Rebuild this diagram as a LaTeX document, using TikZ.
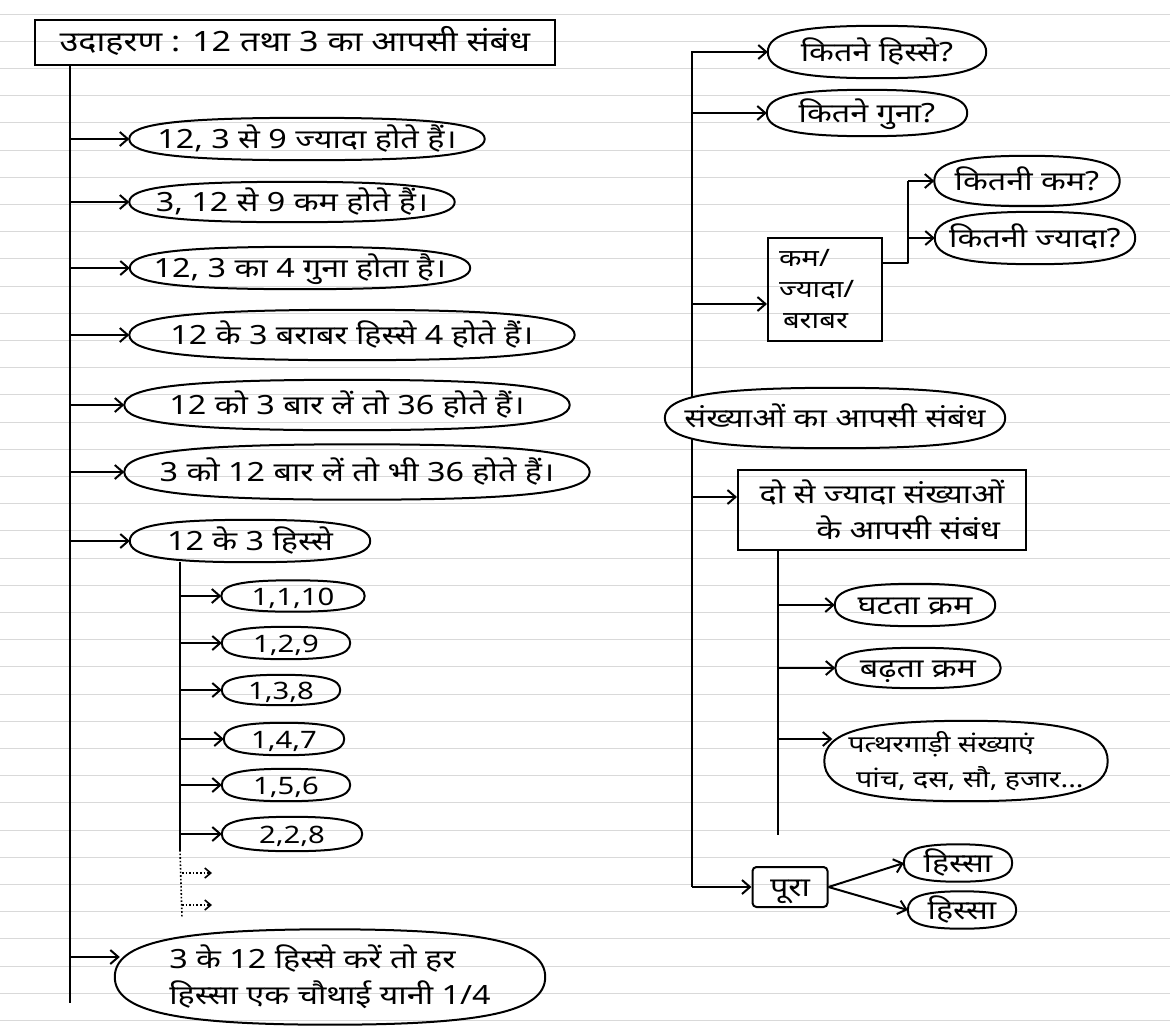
\documentclass[tikz,border=0pt]{standalone}
\usepackage{fontspec}
\newfontfamily\hindi[Script=Devanagari, FakeStretch=1.22]{Noto Sans}
\usetikzlibrary{shapes.geometric,arrows.meta,calc}
\newcommand\ovl[2][0.72]{%
  \draw[ln] (#2.west) .. controls ($(#2.west)!#1!(#2.north west)$) and ($(#2.north)!#1!(#2.north west)$) .. (#2.north)
    .. controls ($(#2.north)!#1!(#2.north east)$) and ($(#2.east)!#1!(#2.north east)$) .. (#2.east)
    .. controls ($(#2.east)!#1!(#2.south east)$) and ($(#2.south)!#1!(#2.south east)$) .. (#2.south)
    .. controls ($(#2.south)!#1!(#2.south west)$) and ($(#2.west)!#1!(#2.south west)$) .. (#2.west);}
\begin{document}
\begin{tikzpicture}[x=1pt,y=-1pt,
  every node/.style={font=\hindi\fontsize{26.5}{36}\selectfont, inner sep=0pt},
  ov/.style={rectangle, inner sep=0pt, text height=22pt, text depth=3pt},
  num/.style={ov, font=\hindi\fontsize{24}{30}\selectfont, text height=19pt, text depth=1pt},
  ovm/.style={rectangle, inner sep=0pt, align=left},
  bx/.style={draw, rectangle, line width=2pt, inner sep=0pt},
  ln/.style={line width=2pt, line join=round},
  arr/.style={line width=2pt, -{Straight Barb[length=8pt,width=14pt]}},
  dotln/.style={line width=1.6pt, dotted},
  dotarr/.style={line width=1.6pt, dotted, -{Straight Barb[length=6pt,width=10pt]}},
  rule/.style={gray!30, line width=0.9pt}]
\useasboundingbox (0,0) rectangle (1170,1028);
\foreach \k in {0,...,37} \draw[rule] (0,{14+27.2*\k}) -- (1170,{14+27.2*\k});

% ---------- left tree ----------
\node[bx, minimum width=520pt, minimum height=45pt, text height=23pt, text depth=4pt, font=\hindi\fontsize{28}{36}\selectfont] (title) at (295,42) {उदाहरण : 12 तथा 3 का आपसी संबंध};
\node[ov, minimum width=355pt, minimum height=42pt] (e1) at (307,139) {12, 3 से 9 ज्यादा होते हैं।};
\node[ov, minimum width=325pt, minimum height=40pt] (e2) at (292,202) {3, 12 से 9 कम होते हैं।};
\node[ov, minimum width=340pt, minimum height=42pt] (e3) at (300,268) {12, 3 का 4 गुना होता है।};
\node[ov, minimum width=445pt, minimum height=50pt] (e4) at (352,335) {12 के 3 बराबर हिस्से 4 होते हैं।};
\node[ov, minimum width=445pt, minimum height=50pt] (e5) at (347,405) {12 को 3 बार लें तो 36 होते हैं।};
\node[ov, minimum width=465pt, minimum height=55pt] (e6) at (357,472) {3 को 12 बार लें तो भी 36 होते हैं।};
\node[ov, minimum width=240pt, minimum height=42pt] (e7) at (250,541) {12 के 3 हिस्से};
\node[num, minimum width=143pt, minimum height=31pt] (f1) at (293,596) {1,1,10};
\node[num, minimum width=128pt, minimum height=32pt] (f2) at (286,643) {1,2,9};
\node[num, minimum width=118pt, minimum height=30pt] (f3) at (281,690) {1,3,8};
\node[num, minimum width=120pt, minimum height=32pt] (f4) at (284,739) {1,4,7};
\node[num, minimum width=128pt, minimum height=32pt] (f5) at (286,785) {1,5,6};
\node[num, minimum width=140pt, minimum height=34pt] (f6) at (292,834) {2,2,8};
\node[ovm, minimum width=430pt, minimum height=95pt] (e8) at (330,977) {3 के 12 हिस्से करें तो हर\\हिस्सा एक चौथाई यानी 1/4};
\foreach \n in {e1,e2,e3,e4,e5,e6,e7,f1,f2,f3,f4,f5,f6,e8} {\ovl{\n}}

\coordinate (LT) at (70,0);
\coordinate (LTend) at (70,1003);
\draw[ln] (title.south -| LT) -- (LTend);
\foreach \n in {e1,e2,e3,e4,e5,e6,e7} \draw[arr] (LT |- \n.west) -- (\n.west);
\coordinate (e8in) at ([xshift=5pt,yshift=20pt]e8.west);
\draw[arr] (LT |- e8in) -- (e8in);

\coordinate (ST) at (180,0);
\coordinate (STend) at (180,850);
\coordinate (DTend) at (182,918);
\draw[ln] (ST |- e7.south) -- (STend);
\foreach \n in {f1,f2,f3,f4,f5,f6} \draw[arr] (ST |- \n.west) -- (\n.west);
\draw[dotln] (STend) -- (DTend);
\coordinate (da) at (182,873); \coordinate (dae) at (212,873);
\coordinate (db) at (182,905); \coordinate (dbe) at (212,905);
\draw[dotarr] (da) -- (dae);
\draw[dotarr] (db) -- (dbe);

% ---------- right tree ----------
\node[ov, minimum width=218pt, minimum height=52pt] (q1) at (877,52) {कितने हिस्से?};
\node[ov, minimum width=200pt, minimum height=46pt] (q2) at (867,113) {कितने गुना?};
\node[bx, minimum width=114pt, minimum height=103pt, align=left, text width=92pt, font=\hindi\fontsize{24}{31}\selectfont] (kb) at (825,289) {कम/\\ज्यादा/\\\,बराबर};
\node[ov, minimum width=185pt, minimum height=50pt] (k1) at (1027,181) {कितनी कम?};
\node[ov, minimum width=200pt, minimum height=52pt] (k2) at (1035,238) {कितनी ज्यादा?};
\node[ov, minimum width=340pt, minimum height=60pt] (root) at (835,418) {संख्याओं का आपसी संबंध};
\node[bx, minimum width=288pt, minimum height=80pt, align=right] (d) at (882,510) {दो से ज्यादा संख्याओं\\के आपसी संबंध\,};
\node[ov, minimum width=160pt, minimum height=42pt] (g1) at (915,605) {घटता क्रम};
\node[ov, minimum width=165pt, minimum height=40pt] (g2) at (918,668) {बढ़ता क्रम};
\node[ovm, minimum width=283pt, minimum height=80pt, font=\hindi\fontsize{23.5}{35}\selectfont] (g3) at (966,761) {पत्थरगाड़ी संख्याएं\\\,\,पांच, दस, सौ, हजार...};
\node[bx, rounded corners=4pt, minimum width=75pt, minimum height=40pt, text height=21pt, text depth=3pt] (pura) at (790,887) {पूरा};
\node[ov, minimum width=108pt, minimum height=37pt] (h1) at (958,863) {हिस्सा};
\node[ov, minimum width=108pt, minimum height=37pt] (h2) at (962,910) {हिस्सा};
\foreach \n in {q1,q2,k1,k2,root,g1,g2,g3,h1,h2} {\ovl{\n}}

\coordinate (RTa) at (692,398);
\coordinate (RTb) at (692,438);
\coordinate (RTend) at (692,887);
\draw[arr] (RTa) |- (q1.west);
\draw[arr] (RTa |- q2.west) -- (q2.west);
\coordinate (kbin) at ([yshift=-15pt]kb.west);
\draw[arr] (RTa |- kbin) -- (kbin);
\coordinate (kbout) at ([yshift=26pt]kb.east);
\coordinate (KB) at (908,0);
\draw[ln] (kbout) -| (KB |- k1.west);
\draw[arr] (KB |- k1.west) -- (k1.west);
\draw[arr] (KB |- k2.west) -- (k2.west);
\draw[ln] (RTb) -- (RTend);
\coordinate (din) at ([yshift=13pt]d.west);
\draw[arr] (RTb |- din) -- (din);
\draw[arr] (RTend) -- (pura.west);

\coordinate (ST2) at (778,0);
\coordinate (ST2end) at (778,835);
\draw[ln] (ST2 |- d.south) -- (ST2end);
\draw[arr] (ST2 |- g1.west) -- (g1.west);
\draw[arr] (ST2 |- g2.west) -- (g2.west);
\coordinate (g3in) at ([xshift=8pt,yshift=22pt]g3.west);
\draw[arr] (ST2 |- g3in) -- (g3in);
\draw[arr] (pura.east) -- (h1.west);
\draw[arr] (pura.east) -- (h2.west);
\end{tikzpicture}
\end{document}
